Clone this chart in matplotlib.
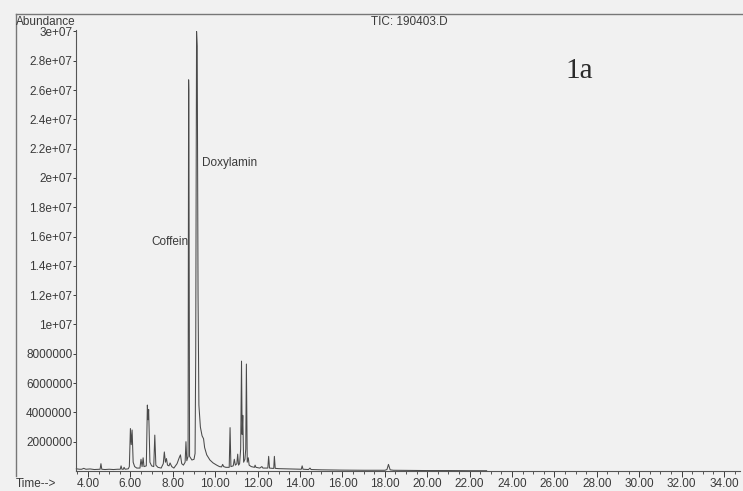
import matplotlib.pyplot as plt
from matplotlib.lines import Line2D
from matplotlib.ticker import MultipleLocator

plt.rcParams['font.family'] = ['Liberation Sans', 'DejaVu Sans']

# retention time (min) and abundance (millions)
time_min = [
    3.45, 3.6, 3.7, 3.8, 3.9, 4.1, 4.3, 4.5, 4.57, 4.61, 4.65, 4.8, 5.0, 5.2, 5.4,
    5.52, 5.56, 5.6, 5.67, 5.7, 5.75, 5.9,
    5.95, 6.0, 6.04, 6.08, 6.13, 6.2, 6.3,
    6.45, 6.5, 6.55, 6.6, 6.64,
    6.75, 6.8, 6.83, 6.86, 6.92, 7.0,
    7.1, 7.15, 7.2, 7.3,
    7.45, 7.55, 7.6, 7.65, 7.7, 7.75, 7.82, 7.87, 7.95,
    8.05, 8.2, 8.3, 8.36, 8.42, 8.5,
    8.58, 8.62, 8.66,
    8.72, 8.745, 8.755, 8.79,
    8.9, 9.0, 9.05,
    9.08, 9.12, 9.15, 9.19, 9.23, 9.3, 9.38, 9.45, 9.5, 9.6, 9.75, 9.9, 10.07, 10.2,
    10.3, 10.35, 10.4, 10.5,
    10.66, 10.7, 10.74,
    10.85, 10.9, 10.95, 11.02, 11.06, 11.1, 11.15,
    11.2, 11.24, 11.27, 11.3, 11.34, 11.4,
    11.44, 11.47, 11.51, 11.56, 11.6, 11.7,
    11.85, 11.88, 11.92, 12.1, 12.2, 12.25, 12.4,
    12.48, 12.52, 12.56, 12.7, 12.76, 12.79, 12.83,
    13.0, 13.5, 14.0, 14.06, 14.1, 14.14, 14.4, 14.47, 14.52,
    15.0, 16.0, 17.0, 18.0, 18.1, 18.17, 18.25, 18.4, 19.0, 20.0, 21.0, 22.0, 22.8,
]
abundance_m = [
    0.15, 0.12, 0.12, 0.18, 0.12, 0.14, 0.10, 0.12, 0.12, 0.50, 0.12, 0.10, 0.12, 0.10, 0.12,
    0.12, 0.35, 0.12, 0.12, 0.25, 0.12, 0.15,
    0.30, 2.90, 1.80, 2.80, 0.60, 0.30, 0.20,
    0.20, 0.80, 0.30, 0.90, 0.30,
    0.35, 4.50, 3.50, 4.20, 0.60, 0.35,
    0.30, 2.45, 0.40, 0.25,
    0.20, 0.50, 1.30, 0.60, 0.85, 0.40, 0.35, 0.55, 0.30,
    0.20, 0.50, 0.90, 1.10, 0.50, 0.40,
    0.60, 2.00, 0.70,
    1.00, 26.7, 26.0, 1.00,
    0.75, 0.80, 1.20,
    8.00, 30.0, 29.0, 12.0, 4.50, 3.00, 2.40, 2.20, 1.60, 1.10, 0.75, 0.55, 0.40, 0.30,
    0.28, 0.45, 0.30, 0.25,
    0.25, 2.96, 0.30,
    0.35, 0.80, 0.40, 0.50, 1.15, 0.40, 0.50,
    1.50, 7.50, 2.50, 3.80, 0.60, 0.80,
    1.50, 7.30, 0.60, 0.90, 0.40, 0.30,
    0.25, 0.40, 0.25, 0.20, 0.30, 0.20, 0.20,
    0.20, 1.00, 0.20, 0.18, 0.18, 1.00, 0.18,
    0.16, 0.14, 0.12, 0.12, 0.35, 0.12, 0.10, 0.20, 0.10,
    0.08, 0.06, 0.05, 0.05, 0.10, 0.45, 0.08, 0.05, 0.04, 0.03, 0.03, 0.02, 0.02,
]

y_ticks = [2e6, 4e6, 6e6, 8e6, 1e7, 1.2e7, 1.4e7, 1.6e7, 1.8e7, 2e7,
           2.2e7, 2.4e7, 2.6e7, 2.8e7, 3e7]
y_labels = ["2000000", "4000000", "6000000", "8000000", "1e+07", "1.2e+07",
            "1.4e+07", "1.6e+07", "1.8e+07", "2e+07", "2.2e+07", "2.4e+07",
            "2.6e+07", "2.8e+07", "3e+07"]
x_ticks = [4, 6, 8, 10, 12, 14, 16, 18, 20, 22, 24, 26, 28, 30, 32, 34]

W, H = 743, 491
ink = "#3a3a3a"
fig = plt.figure(figsize=(W / 100, H / 100), dpi=100, facecolor="#f1f1f1")
ax = fig.add_axes([76 / W, 1 - 471 / H, (740 - 76) / W, (471 - 30) / H])
ax.set_facecolor("none")

ax.plot(time_min, [a * 1e6 for a in abundance_m], color="#4a4a4a", lw=0.75,
        clip_on=False)

ax.set_xlim(3.434, 34.75)
ax.set_ylim(0, 3.01e7)
ax.set_yticks(y_ticks)
ax.set_yticklabels(y_labels)
ax.set_xticks(x_ticks)
ax.set_xticklabels([f"{t:.2f}" for t in x_ticks])
ax.xaxis.set_minor_locator(MultipleLocator(0.5))

for s in ["top", "right"]:
    ax.spines[s].set_visible(False)
for s in ["left", "bottom"]:
    ax.spines[s].set_color("#555555")
    ax.spines[s].set_linewidth(0.8)

ax.tick_params(axis="y", length=2, pad=0.5, labelsize=8.5, colors=ink,
               width=0.7)
ax.tick_params(axis="x", which="major", length=4, pad=1, labelsize=8.5,
               colors=ink, width=0.7)
ax.tick_params(axis="x", which="minor", length=2.5, width=0.6, color=ink)

ax.text(8.72, 15.65e6, "Coffein", ha="right", va="center", fontsize=8.5,
        color=ink)
ax.text(9.38, 21.0e6, "Doxylamin", ha="left", va="center", fontsize=8.5,
        color=ink)

# page frame
fig.add_artist(Line2D([16 / W, 1], [1 - 14 / H, 1 - 14 / H], color="#777777",
                      lw=1.0))
fig.add_artist(Line2D([16 / W, 16 / W], [1 - 14 / H, 1 - 476 / H],
                      color="#777777", lw=1.0))

fig.text(16 / W, 1 - 22 / H, "Abundance", ha="left", va="center",
         fontsize=8.5, color=ink)
fig.text(16 / W, 1 - 484 / H, "Time-->", ha="left", va="center",
         fontsize=8.5, color=ink)
fig.text(409 / W, 1 - 22 / H, "TIC: 190403.D", ha="center", va="center",
         fontsize=8.5, color=ink)
fig.text(579 / W, 1 - 71 / H, "1a", ha="center", va="center", fontsize=21,
         color="#2a2a2a", family=["Liberation Serif", "DejaVu Serif"])

fig.savefig("out.png", dpi=100, facecolor=fig.get_facecolor())
